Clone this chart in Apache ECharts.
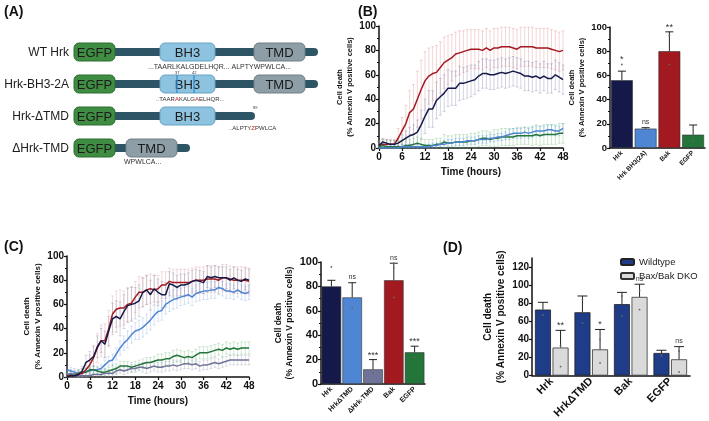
<!DOCTYPE html>
<html>
<head>
<meta charset="utf-8">
<script src="https://cdn.jsdelivr.net/npm/echarts@6/dist/echarts.min.js"></script>
<style>
html, body { margin: 0; padding: 0; background: #fff; }
#chart { width: 709px; height: 421px; }
</style>
</head>
<body>
<div id="chart"></div>
<script>
// ---------------- data ----------------
const hours = [0,1,2,3,4,5,6,7,8,9,10,11,12,13,14,15,16,17,18,19,20,21,22,23,24,
               25,26,27,28,29,30,31,32,33,34,35,36,37,38,39,40,41,42,43,44,45,46,47,48];

// panel B time course (% annexin V positive)
const bHrk  = [2,5,4,3,3,4,6,8,10,11, 13,19,26,32,32,39,42,45,49,49, 49,53,53,54,55,56,59,61,61,60,
               60,61,62,61,62,63,62,61,59,59, 58,59,57,59,57,57,60,58,56];
const bBak  = [2,3,3,3,3,8,14,20,29,32, 40,48,55,59,61,62,66,70,72,74, 77,78,79,80,81,81,81,80,82,80,
               82,82,83,83,83,82,81,83,83,83, 83,82,82,82,82,81,80,79,80];
const bBH3  = [0,0,0,0,0,0,1,1,1,1, 1,1,1,1,2,2,3,3,4,4, 5,5,5,6,6,6,7,7,7,8,
               8,9,9,10,11,12,12,12,13,12, 13,14,14,14,15,15,14,14,16];
const bEGFP = [1,2,1,1,1,1,1,2,2,3, 4,3,2,2,2,3,3,5,4,4, 5,5,5,5,6,6,7,8,8,7,
               8,8,9,9,9,9,10,10,10,10, 10,11,10,11,11,11,11,12,12];
const bHrkSd  = [3,3,3,3,3,4,5,6,7,8, 10,12,14,15,15,15,15,15,15,14, 14,14,13,13,13,12,12,12,12,12,
                 12,12,12,12,12,12,12,12,12,12, 12,12,12,12,12,12,12,12,12];
const bBakSd  = [4,4,4,4,4,8,11,15,18,20, 23,24,24,23,22,22,21,21,20,19, 18,18,17,17,16,16,16,16,16,16,
                 16,16,16,16,16,16,16,16,16,16, 16,16,16,16,16,16,16,16,16];
const bBH3Sd  = [2,2,2,2,2,2,2,2,2,2, 2,2,2,2,2,2,2,3,3,3, 3,3,3,3,3,3,3,3,3,3,
                 3,3,3,3,4,4,4,4,4,4, 4,4,4,4,4,4,4,4,4];
const bEGFPSd = [5,5,5,5,5,5,5,5,5,5, 5,5,5,5,5,5,5,6,6,6, 6,6,6,6,6,6,6,6,6,6,
                 7,7,7,7,7,7,7,7,7,7, 8,8,8,8,8,8,8,8,8];

// panel B end point bars
const bCats  = ['Hrk', 'Hrk BH3(2A)', 'Bak', 'EGFP'];
const bMeans = [56, 16, 80, 11];
const bSds   = [7.5, 0.8, 16, 8];
const bReps  = [[69], [], [93, 69], [6]];
const bSigs  = ['*', 'ns', '**', ''];

// panel C time course
const cHrk  = [0,1,1,2,5,12,14,17,25,30, 27,38,48,50,48,54,59,60,61,63, 70,72,68,73,70,68,68,77,76,74,
               76,76,77,79,80,79,78,83,82,83, 82,82,82,80,82,80,79,81,80];
const cBak  = [1,1,1,2,3,6,10,16,24,30, 30,40,52,56,57,57,60,61,66,70, 70,72,73,72,73,76,76,79,78,78,
               78,78,78,79,80,80,80,81,81,81, 80,82,82,81,80,80,80,80,79];
const cTmd  = [6,5,4,3,3,4,5,6,6,7, 10,13,14,19,24,28,31,35,38,39, 41,44,47,51,54,55,60,62,64,65,
               66,67,68,66,69,70,71,71,72,72, 74,73,71,71,70,72,70,69,70];
const cEGFP = [1,2,2,3,4,4,6,6,5,4, 4,5,6,7,9,9,9,8,9,10, 11,12,12,13,14,14,15,15,17,18,
               17,16,17,16,18,20,20,20,21,22, 23,22,24,23,24,23,24,24,24];
const cDel  = [2,3,2,1,1,1,1,2,2,2, 3,3,3,5,6,5,6,7,7,8, 8,7,8,9,8,8,9,9,10,9,
               10,11,11,10,11,9,10,10,11,12, 11,12,13,14,14,14,14,14,14];
const cHrkSd  = [2,2,2,3,4,6,7,8,9,10, 11,12,13,13,14,14,14,14,13,13, 12,12,12,11,11,11,10,10,10,10,
                 9,9,9,9,9,9,9,9,9,9, 9,9,9,9,9,9,9,9,9];
const cBakSd  = [2,2,2,3,4,6,8,10,12,13, 14,15,15,15,15,14,14,14,13,13, 12,12,12,12,11,11,11,11,11,11,
                 11,11,11,11,11,11,11,11,11,11, 11,11,11,11,11,11,11,11,11];
const cTmdSd  = [3,3,3,3,3,3,3,3,3,3, 4,4,5,5,6,6,7,7,7,8, 8,8,8,8,8,8,8,8,8,8,
                 7,7,7,7,7,7,7,7,7,7, 6,6,6,6,6,6,6,6,6];
const cEGFPSd = [3,3,3,3,3,3,3,3,3,3, 3,3,4,4,4,4,4,4,4,4, 4,4,4,4,5,5,5,5,5,5,
                 5,5,5,5,5,5,5,5,5,5, 5,5,5,5,5,5,5,5,5];
const cDelSd  = [3,3,3,3,3,3,3,3,3,3, 3,3,3,3,3,3,3,3,3,3, 4,4,4,4,4,4,4,4,4,4,
                 4,4,4,4,4,4,4,4,4,4, 4,4,4,4,4,4,4,4,4];

// panel C end point bars
const cCats  = ['Hrk', 'Hrk\u0394TMD', '\u0394Hrk-TMD', 'Bak', 'EGFP'];
const cMeans = [80, 71, 12, 85, 26];
const cSds   = [5, 12, 8, 14, 5];
const cReps  = [[96], [62], [9], [99, 95, 71], [22]];
const cSigs  = ['', 'ns', '***', 'ns', '***'];

// panel D wildtype vs Bax/Bak DKO
const dCats   = ['Hrk', 'Hrk\u0394TMD', 'Bak', 'EGFP'];
const dWt     = [73, 70, 79, 25];
const dWtSd   = [8, 18, 13, 3];
const dWtReps = [[67], [58, 84], [66, 88], [22]];
const dKo     = [31, 29, 87, 18];
const dKoSd   = [19, 22, 14, 14];
const dKoReps = [[10, 33], [14, 40], [73, 94], [4, 27]];
const dKoSigs = ['**', '*', 'ns', 'ns'];

// ---------------- helpers ----------------
const FONT = '"Liberation Sans", Arial, sans-serif';
const INK = '#111';

function valueY(gi, max, interval, nameGap, nameSize, labelSize, minor) {
    return {
        gridIndex: gi, type: 'value', min: 0, max: max, interval: interval,
        axisLine: { show: true, lineStyle: { color: INK, width: 1.5 } },
        axisTick: { show: true, length: 3, lineStyle: { color: INK, width: 1.2 } },
        minorTick: { show: minor, splitNumber: 2, length: 2, lineStyle: { color: INK, width: 1 } },
        splitLine: { show: false },
        axisLabel: { fontSize: labelSize, fontWeight: 'bold', color: INK, margin: 3, showMaxLabel: max === 100 },
        name: 'Cell death\n(% Annexin V positive cells)',
        nameLocation: 'middle', nameRotate: 90, nameGap: nameGap,
        nameTextStyle: { fontSize: nameSize, fontWeight: 'bold', color: INK, lineHeight: nameSize * 1.35, fontFamily: FONT }
    };
}

function timeX(gi) {
    return {
        gridIndex: gi, type: 'value', min: 0, max: 48, interval: 6,
        axisLine: { lineStyle: { color: INK, width: 1.5 } },
        axisTick: { length: 3, lineStyle: { color: INK, width: 1.2 } },
        splitLine: { show: false },
        axisLabel: { fontSize: 10, fontWeight: 'bold', color: INK, margin: 4 },
        name: 'Time (hours)', nameLocation: 'middle', nameGap: 19,
        nameTextStyle: { fontSize: 10, fontWeight: 'bold', color: INK }
    };
}

function catX(gi, cats, size) {
    return {
        gridIndex: gi, type: 'category', data: cats,
        axisLine: { lineStyle: { color: INK, width: 1.5 } },
        axisTick: { alignWithLabel: true, length: 3, lineStyle: { color: INK, width: 1 } },
        axisLabel: { interval: 0, rotate: 45, fontSize: size, fontWeight: 'bold', color: INK, margin: 4 }
    };
}

function lineSeries(gi, name, vals, color) {
    return {
        type: 'line', name: name, xAxisIndex: gi, yAxisIndex: gi, z: 3,
        showSymbol: false, silent: true,
        lineStyle: { color: color, width: 1.5 },
        data: hours.map((h, i) => [h, vals[i]])
    };
}

// vertical error bars for time courses
function lineErr(gi, vals, sds, color) {
    return {
        type: 'custom', xAxisIndex: gi, yAxisIndex: gi, z: 1, silent: true,
        data: hours.map((h, i) => [h, vals[i], sds[i]]),
        renderItem: function (params, api) {
            const t = api.value(0), m = api.value(1), s = api.value(2);
            const top = api.coord([t, Math.min(100, m + s)]);
            const bot = api.coord([t, Math.max(0, m - s)]);
            const st = { stroke: color, lineWidth: 0.7 };
            return { type: 'group', children: [
                { type: 'line', shape: { x1: top[0], y1: top[1], x2: bot[0], y2: bot[1] }, style: st },
                { type: 'line', shape: { x1: top[0] - 1.5, y1: top[1], x2: top[0] + 1.5, y2: top[1] }, style: st },
                { type: 'line', shape: { x1: bot[0] - 1.5, y1: bot[1], x2: bot[0] + 1.5, y2: bot[1] }, style: st }
            ]};
        }
    };
}

// error bar (up only), replicate dots and significance mark on bars
function barExtras(gi, means, sds, reps, sigs, offset, capW, sigSize) {
    return {
        type: 'custom', xAxisIndex: gi, yAxisIndex: gi, z: 5, silent: true,
        data: means.map((v, i) => [i, v, sds[i]]),
        renderItem: function (params, api) {
            const i = params.dataIndex;
            const m = api.value(1), s = api.value(2);
            const base = api.coord([i, m]);
            const x = base[0] + offset;
            const top = api.coord([i, m + s])[1];
            const st = { stroke: '#222', lineWidth: 1 };
            const kids = [
                { type: 'line', shape: { x1: x, y1: base[1], x2: x, y2: top }, style: st },
                { type: 'line', shape: { x1: x - capW, y1: top, x2: x + capW, y2: top }, style: st }
            ];
            let hi = m + s;
            reps[i].forEach(r => {
                const p = api.coord([i, r]);
                kids.push({ type: 'circle', shape: { cx: x, cy: p[1], r: 0.9 }, style: { fill: '#666' } });
                hi = Math.max(hi, r);
            });
            if (sigs[i]) {
                const p = api.coord([i, hi]);
                const big = sigs[i] !== 'ns';
                kids.push({ type: 'text', x: x, y: p[1] - (big ? 0 : 2),
                    style: { text: sigs[i], fill: '#333', font: (big ? sigSize + 2 : sigSize) + 'px ' + FONT,
                             align: 'center', verticalAlign: 'bottom' } });
            }
            return { type: 'group', children: kids };
        }
    };
}

// ---------------- panel A diagram ----------------
const TEAL = '#2d5565', GREEN = '#3f8d43', BLUE = '#8ec3df', GREY = '#8e9ea6';
function box(x, y, w, fill, stroke, label) {
    return [
        { type: 'rect', shape: { x: x, y: y - 9, width: w, height: 18, r: 5 }, style: { fill: fill, stroke: stroke, lineWidth: 1 } },
        { type: 'text', x: x + w / 2, y: y + 1, style: { text: label, fill: '#1b1b1b', font: '13px ' + FONT, align: 'center', verticalAlign: 'middle' } }
    ];
}
function stalk(y, x2) {
    return { type: 'rect', shape: { x: 108, y: y - 4, width: x2 - 108, height: 8, r: [0, 4, 4, 0] }, style: { fill: TEAL } };
}
function rowLabel(y, t) {
    return { type: 'text', x: 69, y: y + 1, style: { text: t, fill: '#1b1b1b', font: '12px ' + FONT, align: 'right', verticalAlign: 'middle' } };
}
function small(x, y, rich, size) {
    return { type: 'text', x: x, y: y, style: { text: rich, font: size + 'px ' + FONT, fill: '#333', verticalAlign: 'middle',
        rich: { r: { fill: '#d42020', font: size + 'px ' + FONT } } } };
}
const aGraphics = [].concat(
    [{ type: 'text', x: 4, y: 5, style: { text: '(A)', font: 'bold 14px ' + FONT, fill: '#111' } }],
    // WT Hrk
    [rowLabel(52, 'WT Hrk'), stalk(52, 318)], box(160, 52, 55, BLUE, '#65a3c6', 'BH3'), box(254, 52, 51, GREY, '#6e7e86', 'TMD'),
    box(74, 52, 41, GREEN, '#2d6d30', 'EGFP'),
    [small(148, 67, '...TAARLKALGDELHQR... ALPTYWPWLCA...', 7)],
    // Hrk-BH3-2A
    [rowLabel(84, 'Hrk-BH3-2A'), stalk(84, 318)], box(160, 84, 55, BLUE, '#65a3c6', 'BH3'), box(254, 84, 51, GREY, '#6e7e86', 'TMD'),
    box(74, 84, 41, GREEN, '#2d6d30', 'EGFP'),
    [{ type: 'line', shape: { x1: 177, y1: 75, x2: 177, y2: 93 }, style: { stroke: '#3a8fd0', lineWidth: 1.4 } },
     { type: 'line', shape: { x1: 194, y1: 75, x2: 194, y2: 93 }, style: { stroke: '#3a8fd0', lineWidth: 1.4 } },
     small(175, 73, '37', 4), small(192, 73, '42', 4),
     small(156, 99, '..TAAR{r|A}KALG{r|A}ELHQR...', 6)],
    // Hrk-dTMD
    [rowLabel(116, 'Hrk-\u0394TMD'), stalk(116, 255)], box(160, 116, 55, BLUE, '#65a3c6', 'BH3'),
    box(74, 116, 41, GREEN, '#2d6d30', 'EGFP'),
    [small(253, 108, '89', 4), small(229, 128, '..ALPTY{r|Z}PWLCA', 6)],
    // dHrk-TMD
    [rowLabel(148, '\u0394Hrk-TMD'), stalk(148, 190)], box(126, 148, 51, GREY, '#6e7e86', 'TMD'),
    box(74, 148, 41, GREEN, '#2d6d30', 'EGFP'),
    [small(124, 162, 'WPWLCA...', 7)],
    [{ type: 'text', x: 358, y: 5, style: { text: '(B)', font: 'bold 14px ' + FONT, fill: '#111' } },
     { type: 'text', x: 4, y: 240, style: { text: '(C)', font: 'bold 14px ' + FONT, fill: '#111' } },
     { type: 'text', x: 443, y: 241, style: { text: '(D)', font: 'bold 14px ' + FONT, fill: '#111' } }]
);

// ---------------- chart ----------------
const NAVY = '#15194a', RED = '#a2191f', LBLUE = '#4f86d3', DGREEN = '#23753a', PURPLE = '#6f7399';
const D_BAR = 16, D_OFF = D_BAR * 0.55;

const chart = echarts.init(document.getElementById('chart'));
chart.setOption({
    animation: false,
    textStyle: { fontFamily: FONT },
    graphic: aGraphics,
    legend: {
        data: ['Wildtype', 'Bax/Bak DKO'], orient: 'vertical', left: 615, top: 252,
        itemWidth: 13, itemHeight: 6, itemGap: 4, textStyle: { fontSize: 9.5, color: '#222' }
    },
    grid: [
        { left: 379, top: 26, width: 184, height: 122 },
        { left: 610, top: 27, width: 95, height: 121 },
        { left: 67, top: 256, width: 182, height: 121 },
        { left: 321, top: 262, width: 104, height: 122 },
        { left: 532, top: 258, width: 158, height: 118 }
    ],
    xAxis: [
        timeX(0),
        catX(1, bCats, 6.5),
        timeX(2),
        catX(3, cCats, 7),
        catX(4, dCats, 11)
    ],
    yAxis: [
        valueY(0, 100, 20, 16, 7.5, 10, true),
        valueY(1, 100, 20, 19, 7.5, 9.5, true),
        valueY(2, 100, 20, 20, 8, 10, true),
        valueY(3, 100, 20, 21, 8.5, 11, true),
        valueY(4, 130, 20, 22, 10, 10, false)
    ],
    series: [
        // panel B lines
        lineErr(0, bBak, bBakSd, 'rgba(220,120,125,0.45)'),
        lineErr(0, bHrk, bHrkSd, 'rgba(110,115,160,0.45)'),
        lineErr(0, bEGFP, bEGFPSd, 'rgba(90,180,100,0.45)'),
        lineErr(0, bBH3, bBH3Sd, 'rgba(90,150,220,0.45)'),
        lineSeries(0, 'B Bak', bBak, RED),
        lineSeries(0, 'B Hrk', bHrk, NAVY),
        lineSeries(0, 'B EGFP', bEGFP, DGREEN),
        lineSeries(0, 'B Hrk BH3(2A)', bBH3, LBLUE),
        // panel B bars
        {
            type: 'bar', name: 'B bars', xAxisIndex: 1, yAxisIndex: 1, barCategoryGap: '8%', silent: true,
            data: bMeans.map((v, i) => ({ value: v, itemStyle: { color: [NAVY, LBLUE, RED, DGREEN][i] } })),
            itemStyle: { borderColor: '#333', borderWidth: 0.6 }
        },
        barExtras(1, bMeans, bSds, bReps, bSigs, 0, 4, 7),
        // panel C lines
        lineErr(2, cBak, cBakSd, 'rgba(215,130,140,0.42)'),
        lineErr(2, cHrk, cHrkSd, 'rgba(120,120,150,0.42)'),
        lineErr(2, cTmd, cTmdSd, 'rgba(120,160,220,0.42)'),
        lineErr(2, cEGFP, cEGFPSd, 'rgba(100,180,110,0.42)'),
        lineErr(2, cDel, cDelSd, 'rgba(140,140,170,0.42)'),
        lineSeries(2, 'C Hrk dTMD', cTmd, LBLUE),
        lineSeries(2, 'C EGFP', cEGFP, DGREEN),
        lineSeries(2, 'C dHrk-TMD', cDel, PURPLE),
        lineSeries(2, 'C Bak', cBak, RED),
        lineSeries(2, 'C Hrk', cHrk, NAVY),
        // panel C bars
        {
            type: 'bar', name: 'C bars', xAxisIndex: 3, yAxisIndex: 3, barCategoryGap: '6%', silent: true,
            data: cMeans.map((v, i) => ({ value: v, itemStyle: { color: [NAVY, LBLUE, PURPLE, RED, DGREEN][i] } })),
            itemStyle: { borderColor: '#333', borderWidth: 0.6 }
        },
        barExtras(3, cMeans, cSds, cReps, cSigs, 0, 4, 7),
        // panel D grouped bars
        {
            type: 'bar', name: 'Wildtype', xAxisIndex: 4, yAxisIndex: 4, barWidth: D_BAR, barGap: '10%', silent: true,
            data: dWt, itemStyle: { color: '#1e3c88', borderColor: '#222', borderWidth: 0.8 }
        },
        {
            type: 'bar', name: 'Bax/Bak DKO', xAxisIndex: 4, yAxisIndex: 4, barWidth: D_BAR, barGap: '10%', silent: true,
            data: dKo, itemStyle: { color: '#dadada', borderColor: '#333', borderWidth: 0.8 }
        },
        barExtras(4, dWt, dWtSd, dWtReps, ['', '', '', ''], -D_OFF, 5, 7),
        barExtras(4, dKo, dKoSd, dKoReps, dKoSigs, D_OFF, 5, 7)
    ]
});
</script>
</body>
</html>
